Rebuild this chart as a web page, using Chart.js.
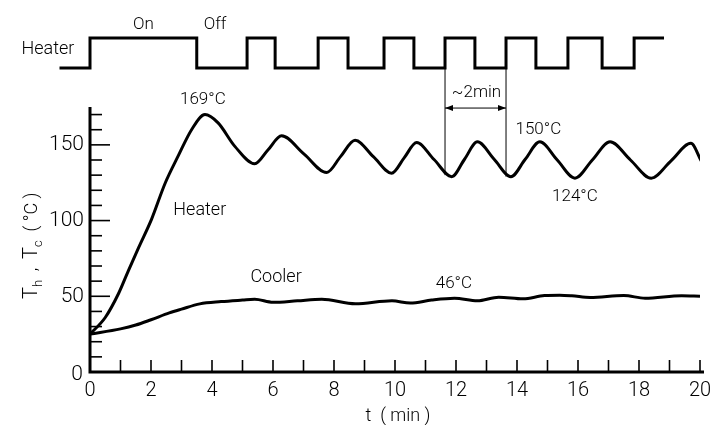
<!DOCTYPE html>
<html>
<head>
<meta charset="utf-8">
<script src="https://cdn.jsdelivr.net/npm/chart.js@4"></script>
<style>
  html, body { margin: 0; padding: 0; background: #fff; }
  #wrap { width: 712px; height: 425px; }
</style>
</head>
<body>
<div id="wrap"><canvas id="tempChart" width="712" height="425"></canvas></div>
<script>
// heater temperature Th (deg C) vs time (min)
var heaterTime = [0, 0.5, 0.94, 1.26, 1.59, 2.02, 2.46, 2.9, 3.33, 3.77, 4.2, 4.75, 5.4, 5.84, 6.28, 7.02, 7.76, 8.22, 8.69, 9.29, 9.89, 10.3, 10.71, 11.28, 11.86, 12.28, 12.7, 13.25, 13.8, 14.27, 14.75, 15.32, 15.9, 16.47, 17.05, 17.72, 18.4, 19.05, 19.7, 20.05];
var heaterTemp = [25, 36, 52, 67, 82, 101, 124.5, 143, 160, 170, 164.5, 149, 137.5, 146.8, 156, 143.9, 131.7, 142.4, 153, 142.2, 131.3, 141.4, 151.5, 140.3, 129, 140.5, 152, 140.5, 129, 140.5, 152, 140, 128, 140, 152, 140, 128, 139.5, 151, 139];

// cooler temperature Tc
var coolerTime = [0, 1, 1.5, 2, 2.6, 3, 3.6, 4.3, 5.0, 5.4, 6.0, 6.8, 7.6, 8.7, 9.9, 10.5, 11.2, 11.95, 12.7, 13.4, 14.2, 14.9, 15.4, 15.8, 16.4, 17.5, 18.2, 19.4, 20];
var coolerTemp = [25, 28.5, 31, 34.5, 39, 41.5, 45, 46.5, 47.5, 48, 46, 47, 48, 45, 47, 45.5, 47.5, 48.7, 47, 49.4, 48.3, 50.5, 50.7, 50.3, 49.2, 50.5, 48.7, 50.3, 50];

// heater on/off switching (1 = on)
var switchTime = [-1, 0, 3.5, 5.15, 6.07, 7.48, 8.46, 9.64, 10.62, 11.64, 12.62, 13.64, 14.62, 15.67, 16.79, 17.84, 18.82];
var switchState = [0, 1, 0, 1, 0, 1, 0, 1, 0, 1, 0, 1, 0, 1, 0, 1, 1];

// axis ticks
var xTickLabels = [0, 2, 4, 6, 8, 10, 12, 14, 16, 18, 20];
var yTickLabels = [0, 50, 100, 150];

function pairs(xs, ys) {
    return xs.map(function(x, i) { return { x: x, y: ys[i] }; });
}

var FONT = 'Roboto';

function txt(ctx, s, x, y, size, align) {
    ctx.font = '300 ' + size + 'px ' + FONT;
    ctx.textAlign = align || 'center';
    ctx.textBaseline = 'middle';
    ctx.fillText(s, x, y);
}

var axesPlugin = {
    id: 'axesPlugin',
    afterDraw: function(chart) {
        var ctx = chart.ctx;
        var xs = chart.scales.x, ys = chart.scales.y, ss = chart.scales.ySig;
        var x0 = xs.getPixelForValue(0), y0 = ys.getPixelForValue(0);
        ctx.save();
        ctx.fillStyle = '#000';
        ctx.strokeStyle = '#000';

        // axis lines
        ctx.lineWidth = 3;
        ctx.beginPath();
        ctx.moveTo(x0, ys.getPixelForValue(175));
        ctx.lineTo(x0, y0);
        ctx.lineTo(xs.getPixelForValue(20) + 4, y0);
        ctx.stroke();

        // y ticks, pointing inward
        ctx.lineWidth = 1.6;
        for (var v = 10; v <= 170; v += 10) {
            var py = ys.getPixelForValue(v);
            var len = (v % 50 === 0) ? 20 : 12;
            ctx.beginPath();
            ctx.moveTo(x0, py);
            ctx.lineTo(x0 + len, py);
            ctx.stroke();
        }
        // x ticks, pointing up
        for (var t = 1; t <= 20; t++) {
            var px = xs.getPixelForValue(t);
            ctx.beginPath();
            ctx.moveTo(px, y0);
            ctx.lineTo(px, y0 - 12);
            ctx.stroke();
        }

        // tick labels
        yTickLabels.forEach(function(v) {
            if (v === 0) {
                txt(ctx, '0', x0 - 7, y0 + 3, 21, 'right');
            } else {
                txt(ctx, String(v), x0 - 6, ys.getPixelForValue(v), 21, 'right');
            }
        });
        xTickLabels.forEach(function(v) {
            txt(ctx, String(v), xs.getPixelForValue(v), y0 + 19, 20, 'center');
        });

        // axis titles
        txt(ctx, 't  ( min )', xs.getPixelForValue(10.1), y0 + 44, 18, 'center');
        ctx.save();
        ctx.translate(30, 245);
        ctx.rotate(-Math.PI / 2);
        ctx.textBaseline = 'alphabetic';
        ctx.textAlign = 'left';
        var cx = -54;
        var parts = [['T', 20, 0], ['h', 13, 5], ['  ,  ', 18, 0], ['T', 20, 0], ['c', 13, 5], ['  ( \u00B0C )', 18, 0]];
        parts.forEach(function(p) {
            ctx.font = '300 ' + p[1] + 'px ' + FONT;
            ctx.fillText(p[0], cx, 7 + p[2]);
            cx += ctx.measureText(p[0]).width;
        });
        ctx.restore();

        // switching signal labels
        txt(ctx, 'Heater', 48, 49, 18, 'center');
        txt(ctx, 'On', xs.getPixelForValue(1.75), 25, 17, 'center');
        txt(ctx, 'Off', xs.getPixelForValue(4.1), 25, 17, 'center');

        // ~2 min period marker
        var ta = xs.getPixelForValue(11.64), tb = xs.getPixelForValue(13.64);
        ctx.lineWidth = 1;
        ctx.beginPath();
        ctx.moveTo(ta, ss.getPixelForValue(0));
        ctx.lineTo(ta, ys.getPixelForValue(130));
        ctx.moveTo(tb, ss.getPixelForValue(0));
        ctx.lineTo(tb, ys.getPixelForValue(129));
        var ay = ys.getPixelForValue(174.3);
        ctx.moveTo(ta, ay);
        ctx.lineTo(tb, ay);
        ctx.stroke();
        [[ta, 1], [tb, -1]].forEach(function(a) {
            ctx.beginPath();
            ctx.moveTo(a[0], ay);
            ctx.lineTo(a[0] + 8 * a[1], ay - 3);
            ctx.lineTo(a[0] + 8 * a[1], ay + 3);
            ctx.closePath();
            ctx.fill();
        });
        txt(ctx, '~2min', (ta + tb) / 2 + 1, 93, 17, 'center');

        // annotations on the curves
        txt(ctx, '169\u00B0C', xs.getPixelForValue(3.7), 100, 17, 'center');
        txt(ctx, 'Heater', xs.getPixelForValue(3.6), 210, 18, 'center');
        txt(ctx, 'Cooler', xs.getPixelForValue(6.1), 277, 18, 'center');
        txt(ctx, '46\u00B0C', xs.getPixelForValue(11.93), 284, 17, 'center');
        txt(ctx, '150\u00B0C', xs.getPixelForValue(14.7), 130, 17, 'center');
        txt(ctx, '124\u00B0C', xs.getPixelForValue(15.9), 197, 17, 'center');
        ctx.restore();
    }
};

var ctx = document.getElementById('tempChart').getContext('2d');
var tempChart = new Chart(ctx, {
    type: 'line',
    data: {
        datasets: [{
            label: 'Heater',
            data: pairs(heaterTime, heaterTemp),
            borderColor: '#000',
            borderWidth: 3,
            pointRadius: 0,
            cubicInterpolationMode: 'monotone'
        }, {
            label: 'Cooler',
            data: pairs(coolerTime, coolerTemp),
            borderColor: '#000',
            borderWidth: 3,
            pointRadius: 0,
            cubicInterpolationMode: 'monotone'
        }, {
            label: 'Switch',
            data: pairs(switchTime, switchState),
            yAxisID: 'ySig',
            borderColor: '#000',
            borderWidth: 3,
            pointRadius: 0,
            stepped: true,
            clip: false,
            borderJoinStyle: 'miter'
        }]
    },
    options: {
        responsive: false,
        animation: false,
        layout: { padding: { left: 90, right: 12, top: 107, bottom: 53 } },
        plugins: { legend: { display: false }, tooltip: { enabled: false } },
        scales: {
            x: { type: 'linear', min: 0, max: 20, display: false },
            y: { min: 0, max: 175, display: false },
            ySig: { min: -10.133, max: -1.3, display: false }
        }
    },
    plugins: [axesPlugin]
});
</script>
</body>
</html>
